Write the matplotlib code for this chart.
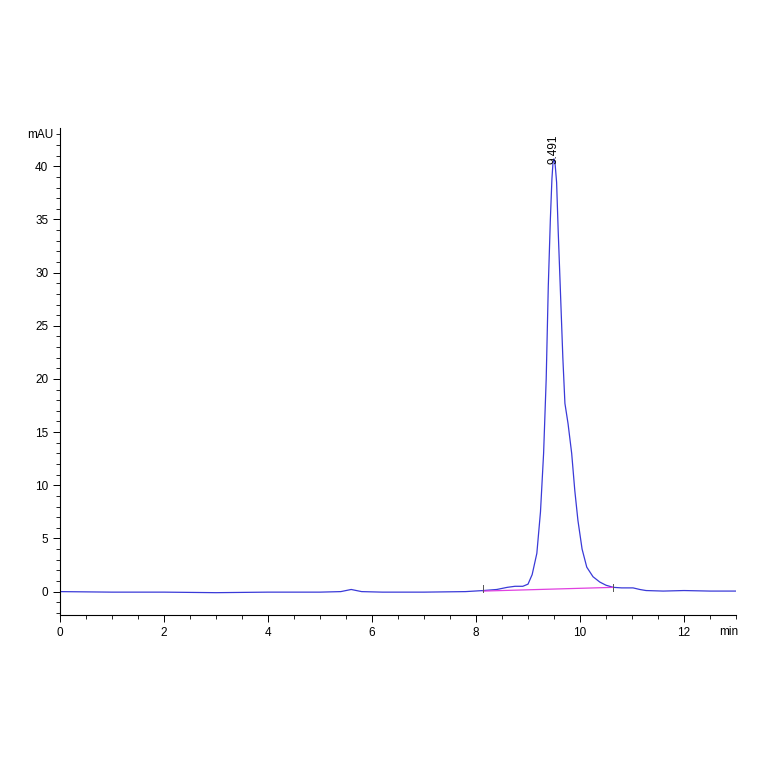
import matplotlib
matplotlib.use("Agg")
import matplotlib.pyplot as plt
from matplotlib.ticker import MultipleLocator

time_min = [0.0, 1.0, 2.0, 3.0, 4.0, 5.0, 5.4, 5.6, 5.8, 6.2, 7.0, 7.8, 8.14, 8.4, 8.6, 8.75, 8.9, 9.0,
            9.08, 9.17, 9.24, 9.30, 9.35, 9.39, 9.43, 9.46, 9.48, 9.50, 9.52, 9.55, 9.58, 9.62, 9.67, 9.71,
            9.77, 9.84, 9.90, 9.96, 10.04, 10.13, 10.25, 10.38, 10.5, 10.64, 10.8, 11.02, 11.15,
            11.27, 11.6, 12.0, 12.5, 13.0]
signal_mau = [0.0, -0.05, -0.05, -0.1, -0.05, -0.05, 0.0, 0.2, 0.0, -0.05, -0.05, 0.0, 0.1, 0.2, 0.4, 0.5, 0.5, 0.7,
              1.6, 3.6, 7.5, 13.0, 20.0, 28.7, 35.0, 38.8, 40.3, 40.7, 40.3, 38.5, 34.0, 28.7, 22.0, 17.7,
              15.8, 13.0, 9.5, 6.7, 4.0, 2.3, 1.4, 0.9, 0.6, 0.4, 0.35, 0.35, 0.2,
              0.1, 0.05, 0.1, 0.05, 0.05]
baseline_t = [8.14, 10.64]
baseline_v = [0.05, 0.4]
peak_label = "9.491"

fig = plt.figure(figsize=(7.64, 7.64), dpi=100)
ax = fig.add_axes([60/764, 1-615/764, 676/764, 487/764])
ax.plot(time_min, signal_mau, color="#3a3ad8", lw=0.9)
ax.plot(baseline_t, baseline_v, color="#e040e0", lw=0.9)
ax.plot([8.14, 8.14], [0.0, 0.6], color="#555555", lw=0.7)
ax.plot([10.64, 10.64], [0.1, 0.7], color="#555555", lw=0.7)
ax.text(9.491, 40.2, peak_label, rotation=90, ha="center", va="bottom", fontsize=8.5,
        family="Liberation Sans")
ax.set_xlim(0, 13)
ax.set_ylim(-2.2, 43.6)
ax.xaxis.set_major_locator(MultipleLocator(2))
ax.xaxis.set_minor_locator(MultipleLocator(0.5))
ax.yaxis.set_major_locator(MultipleLocator(5))
ax.yaxis.set_minor_locator(MultipleLocator(1))
for s in ["top", "right"]:
    ax.spines[s].set_visible(False)
ax.tick_params(labelsize=8.5, length=5, width=0.7)
ax.tick_params(which="minor", length=3, width=0.6)
for lab in ax.get_xticklabels() + ax.get_yticklabels():
    lab.set_family("Liberation Sans")
fig.text(60/764 - 0.008, 1-135/764, "mAU", ha="right", va="center", fontsize=8.5, family="Liberation Sans")
fig.text(738/764, 1-632/764, "min", ha="right", va="center", fontsize=8.5, family="Liberation Sans")
fig.savefig("out.png", dpi=100)
